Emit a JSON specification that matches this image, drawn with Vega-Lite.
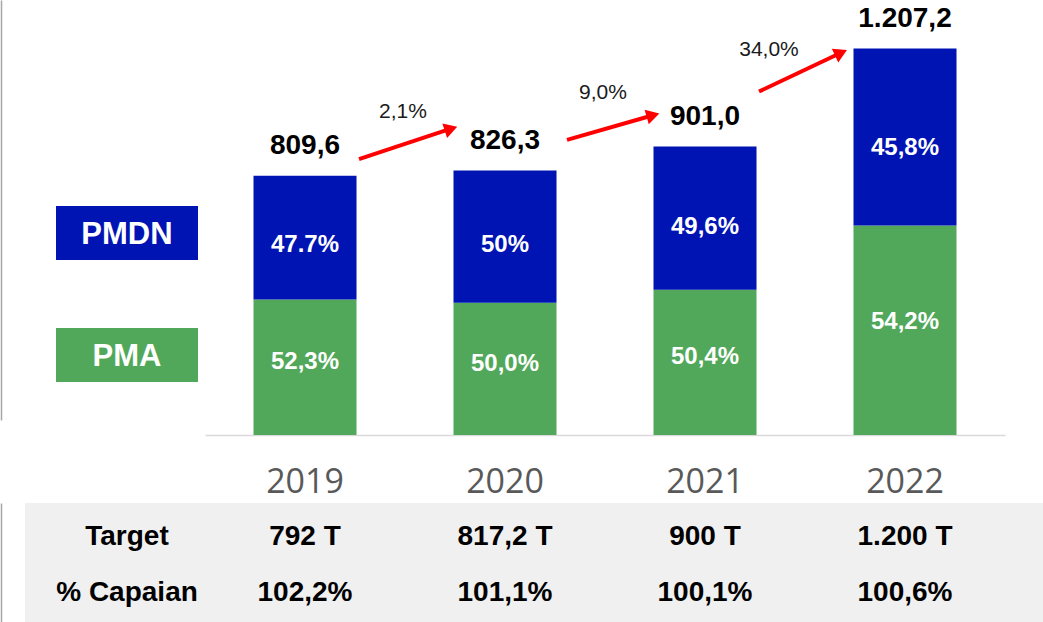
{
  "$schema": "https://vega.github.io/schema/vega-lite/v6.json",
  "padding": 0,
  "spacing": 0,
  "background": "white",
  "config": {"view": {"stroke": null}, "concat": {"spacing": 0}},
  "datasets": {
    "bars": [
      {"year": "2019", "series": "PMA", "value": 423.4, "label": "52,3%"},
      {"year": "2019", "series": "PMDN", "value": 386.2, "label": "47.7%"},
      {"year": "2020", "series": "PMA", "value": 413.2, "label": "50,0%"},
      {"year": "2020", "series": "PMDN", "value": 413.1, "label": "50%"},
      {"year": "2021", "series": "PMA", "value": 454.1, "label": "50,4%"},
      {"year": "2021", "series": "PMDN", "value": 446.9, "label": "49,6%"},
      {"year": "2022", "series": "PMA", "value": 654.3, "label": "54,2%"},
      {"year": "2022", "series": "PMDN", "value": 552.9, "label": "45,8%"}
    ],
    "totals": [
      {"year": "2019", "total": 809.6, "label": "809,6"},
      {"year": "2020", "total": 826.3, "label": "826,3"},
      {"year": "2021", "total": 901.0, "label": "901,0"},
      {"year": "2022", "total": 1207.2, "label": "1.207,2"}
    ],
    "arrows": [
      {"x0": 2019.27, "x1": 2019.73, "y0": 862, "y1": 957, "tx": 2019.49, "ty": 1008, "text": "2,1%"},
      {"x0": 2020.31, "x1": 2020.74, "y0": 922, "y1": 999, "tx": 2020.49, "ty": 1068, "text": "9,0%"},
      {"x0": 2021.27, "x1": 2021.68, "y0": 1073, "y1": 1194, "tx": 2021.32, "ty": 1203, "text": "34,0%"}
    ],
    "legend": [{"series": "PMDN"}, {"series": "PMA"}],
    "table": [
      {"row": "Target", "col": "label", "text": "Target"},
      {"row": "Target", "col": "2019", "text": "792 T"},
      {"row": "Target", "col": "2020", "text": "817,2 T"},
      {"row": "Target", "col": "2021", "text": "900 T"},
      {"row": "Target", "col": "2022", "text": "1.200 T"},
      {"row": "% Capaian", "col": "label", "text": "% Capaian"},
      {"row": "% Capaian", "col": "2019", "text": "102,2%"},
      {"row": "% Capaian", "col": "2020", "text": "101,1%"},
      {"row": "% Capaian", "col": "2021", "text": "100,1%"},
      {"row": "% Capaian", "col": "2022", "text": "100,6%"}
    ]
  },
  "vconcat": [
    {
      "spacing": 0,
      "hconcat": [
        {
          "width": 180,
          "height": 420,
          "data": {"name": "legend"},
          "encoding": {
            "x": {"datum": "legend", "type": "nominal", "scale": {"type": "band", "paddingInner": 0, "paddingOuter": 0.1338, "align": 0.8158}, "axis": null},
            "y": {"field": "series", "type": "nominal", "scale": {"type": "band", "domain": ["PMDN", "PMA"], "paddingInner": 0.5574, "paddingOuter": 1, "align": 0.844}, "axis": {"labels": false, "ticks": false, "title": null, "domain": true, "domainColor": "#a6a6a6", "domainWidth": 1.5, "offset": 24, "minExtent": 1, "maxExtent": 1}}
          },
          "layer": [
            {
              "mark": {"type": "rect"},
              "encoding": {
                "color": {"field": "series", "type": "nominal", "scale": {"domain": ["PMDN", "PMA"], "range": ["#0014B4", "#52A85A"]}, "legend": null}
              }
            },
            {
              "mark": {"type": "text", "font": "Liberation Sans", "fontWeight": "bold", "fontSize": 31, "color": "white", "baseline": "middle", "align": "center", "dy": 2},
              "encoding": {"text": {"field": "series"}}
            }
          ]
        },
        {
          "width": 800,
          "height": 435,
          "layer": [
            {
              "encoding": {
                "x": {
                  "field": "year", "type": "nominal",
                  "scale": {"paddingInner": 0.485, "paddingOuter": 0.2425},
                  "axis": {"title": null, "labelAngle": 0, "ticks": false, "tickSize": 0, "domainColor": "#d9d9d9", "domainWidth": 1.5, "labelFont": "Open Sans", "labelFontSize": 34, "labelColor": "#595959", "labelBaseline": "alphabetic", "labelPadding": 57, "minExtent": 68, "maxExtent": 68}
                }
              },
              "layer": [
                {
                  "data": {"name": "bars"},
                  "mark": {"type": "bar"},
                  "encoding": {
                    "y": {"field": "value", "type": "quantitative", "stack": "zero", "scale": {"domain": [0, 1359], "nice": false}, "axis": null},
                    "color": {"field": "series", "type": "nominal", "scale": {"domain": ["PMDN", "PMA"], "range": ["#0014B4", "#52A85A"]}, "legend": null},
                    "order": {"field": "series", "sort": "ascending"}
                  }
                },
                {
                  "data": {"name": "bars"},
                  "mark": {"type": "text", "font": "Liberation Sans", "fontWeight": "bold", "fontSize": 24, "color": "white", "baseline": "middle", "align": "center"},
                  "encoding": {
                    "y": {"field": "value", "type": "quantitative", "stack": "zero", "bandPosition": 0.44, "scale": {"domain": [0, 1359], "nice": false}, "axis": null},
                    "detail": {"field": "series"},
                    "order": {"field": "series", "sort": "ascending"},
                    "text": {"condition": {"test": "datum.series == 'PMDN'", "field": "label"}, "value": ""}
                  }
                },
                {
                  "data": {"name": "bars"},
                  "mark": {"type": "text", "font": "Liberation Sans", "fontWeight": "bold", "fontSize": 24, "color": "white", "baseline": "middle", "align": "center"},
                  "encoding": {
                    "y": {"field": "value", "type": "quantitative", "stack": "zero", "bandPosition": 0.54, "scale": {"domain": [0, 1359], "nice": false}, "axis": null},
                    "detail": {"field": "series"},
                    "order": {"field": "series", "sort": "ascending"},
                    "text": {"condition": {"test": "datum.series == 'PMA'", "field": "label"}, "value": ""}
                  }
                },
                {
                  "data": {"name": "totals"},
                  "mark": {"type": "text", "font": "Liberation Sans", "fontWeight": "bold", "fontSize": 28, "color": "black", "baseline": "alphabetic", "align": "center", "dy": -22},
                  "encoding": {
                    "y": {"field": "total", "type": "quantitative", "scale": {"domain": [0, 1359], "nice": false}, "axis": null},
                    "text": {"field": "label"}
                  }
                }
              ]
            },
            {
              "data": {"name": "arrows"},
              "layer": [
                {
                  "mark": {"type": "rule", "color": "#FF0000", "strokeWidth": 4},
                  "encoding": {
                    "x": {"field": "x0", "type": "quantitative", "scale": {"domain": [2018.5, 2022.5], "nice": false, "zero": false}, "axis": null},
                    "x2": {"field": "x1"},
                    "y": {"field": "y0", "type": "quantitative", "scale": {"domain": [0, 1359], "nice": false}, "axis": null},
                    "y2": {"field": "y1"}
                  }
                },
                {
                  "mark": {"type": "point", "shape": "triangle-right", "filled": true, "color": "#FF0000", "opacity": 1, "size": 230},
                  "encoding": {
                    "x": {"field": "x1", "type": "quantitative", "scale": {"domain": [2018.5, 2022.5], "nice": false, "zero": false}, "axis": null},
                    "y": {"field": "y1", "type": "quantitative", "scale": {"domain": [0, 1359], "nice": false}, "axis": null},
                    "angle": {"condition": [{"test": "datum.text == '34,0%'", "value": -25}, {"test": "datum.text == '9,0%'", "value": -16}], "value": -18}
                  }
                },
                {
                  "mark": {"type": "text", "font": "Liberation Sans", "fontSize": 21, "color": "#1a1a1a", "baseline": "middle", "align": "center"},
                  "encoding": {
                    "x": {"field": "tx", "type": "quantitative", "scale": {"domain": [2018.5, 2022.5], "nice": false, "zero": false}, "axis": null},
                    "y": {"field": "ty", "type": "quantitative", "scale": {"domain": [0, 1359], "nice": false}, "axis": null},
                    "text": {"field": "text"}
                  }
                }
              ]
            }
          ],
          "resolve": {"scale": {"x": "independent"}, "axis": {"x": "independent"}}
        }
      ]
    },
    {
      "width": 1018,
      "height": 119,
      "view": {"fill": "#f0f0f0", "stroke": null},
      "data": {"name": "table"},
      "encoding": {
        "y": {"field": "row", "type": "nominal", "scale": {"type": "point", "domain": ["Target", "% Capaian"], "padding": 0.5625, "align": 0.5397}, "axis": {"labels": false, "ticks": false, "title": null, "domain": true, "domainColor": "#a6a6a6", "domainWidth": 1.5, "offset": 24, "minExtent": 1, "maxExtent": 1}},
        "x": {"field": "col", "type": "nominal", "scale": {"type": "point", "domain": ["label", "2019", "2020", "2021", "2022"], "padding": 0.545, "align": 0.367}, "axis": null},
        "text": {"field": "text"}
      },
      "layer": [
        {
          "transform": [{"filter": "datum.col == 'label'"}],
          "mark": {"type": "text", "font": "Liberation Sans", "fontWeight": "bold", "fontSize": 28, "color": "black", "baseline": "middle", "align": "center", "dx": 22}
        },
        {
          "transform": [{"filter": "datum.col != 'label'"}],
          "mark": {"type": "text", "font": "Liberation Sans", "fontWeight": "bold", "fontSize": 28, "color": "black", "baseline": "middle", "align": "center"}
        }
      ]
    }
  ]
}
